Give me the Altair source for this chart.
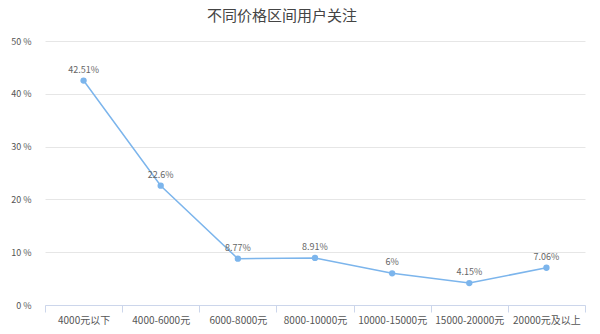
import altair as alt
import pandas as pd

categories = ["4000元以下", "4000-6000元", "6000-8000元", "8000-10000元", "10000-15000元", "15000-20000元", "20000元及以上"]
values = [42.51, 22.6, 8.77, 8.91, 6, 4.15, 7.06]
labels = ["42.51%", "22.6%", "8.77%", "8.91%", "6%", "4.15%", "7.06%"]

df = pd.DataFrame({"cat": categories, "val": values, "lab": labels})

FONT = "Noto Sans CJK SC"
COLOR = "#7cb5ec"

base = alt.Chart(df).encode(
    x=alt.X("cat:N", sort=categories, title=None,
            scale=alt.Scale(paddingInner=0, paddingOuter=0),
            axis=alt.Axis(labelAngle=0, tickBand="extent", labelFont=FONT, labelFontSize=10,
                          labelColor="#555555", domainColor="#ccd6eb", tickColor="#ccd6eb",
                          tickSize=7, labelPadding=3, grid=False)),
    y=alt.Y("val:Q", title=None,
            scale=alt.Scale(domain=[0, 50]),
            axis=alt.Axis(values=[0, 10, 20, 30, 40, 50], labelExpr="datum.value + ' %'",
                          labelFont=FONT, labelFontSize=9, labelColor="#555555",
                          gridColor="#e6e6e6", domain=False, ticks=False, labelPadding=14)),
)

line = base.mark_line(color=COLOR, strokeWidth=1.5)
pts = base.mark_point(filled=True, color=COLOR, size=40, opacity=1)
txt = base.mark_text(dy=-11, font=FONT, fontSize=9, color="#666666").encode(text="lab:N")

chart = (line + pts + txt).properties(
    width=540, height=264,
    title=alt.TitleParams("不同价格区间用户关注", font=FONT, fontSize=15, fontWeight="normal",
                          color="#444444", anchor="middle", dx=-33, offset=13),
    autosize=alt.AutoSizeParams(type="none"),
    padding={"left": 45, "top": 41, "right": 15, "bottom": 29},
).configure_view(stroke=None)

chart.save("out.html", embed_options={"renderer": "svg", "actions": False})
